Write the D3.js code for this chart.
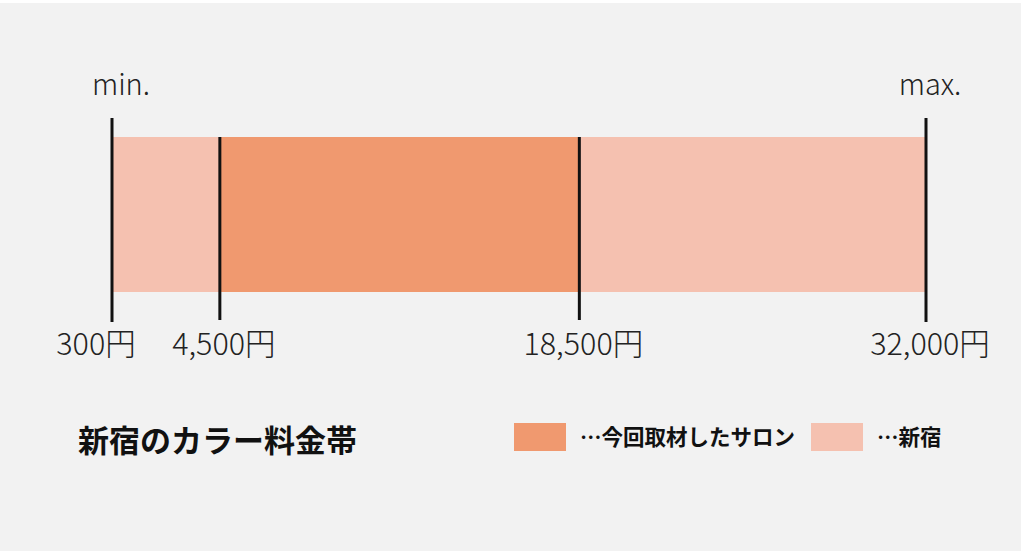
<!DOCTYPE html>
<html>
<head>
<meta charset="utf-8">
<title></title>
<script src="https://cdn.jsdelivr.net/npm/d3@7"></script>
<style>
  body { margin: 0; background: #fff; }
  svg { display: block; }
</style>
</head>
<body>
<svg id="svg"></svg>
<script>
var width = 1024;
var height = 551;

// price range values (yen)
var areaRange = [300, 32000];        // 新宿
var salonRange = [4500, 18500];      // 今回取材したサロン
var tickValues = [300, 4500, 18500, 32000];
var tickLabels = ["300円", "4,500円", "18,500円", "32,000円"];
var endLabels = ["min.", "max."];
var legendNames = ["…今回取材したサロン", "…新宿"];
var title = "新宿のカラー料金帯";

var colDark = "#f0996f";
var colLight = "#f5c1b0";
var font = "'Noto Sans CJK JP', 'Noto Sans', sans-serif";

var svg = d3.select("#svg").attr("width", width).attr("height", height);

svg.append("rect").attr("x", 0).attr("y", 3).attr("width", 1021).attr("height", 548)
  .attr("fill", "#f2f2f2");

var x = d3.scaleLinear().domain(areaRange).range([112, 926]);
var barTop = 137, barBottom = 292;

// bars
svg.append("rect")
  .attr("x", x(areaRange[0])).attr("y", barTop)
  .attr("width", x(areaRange[1]) - x(areaRange[0])).attr("height", barBottom - barTop)
  .attr("fill", colLight);
svg.append("rect")
  .attr("x", x(salonRange[0])).attr("y", barTop)
  .attr("width", x(salonRange[1]) - x(salonRange[0])).attr("height", barBottom - barTop)
  .attr("fill", colDark);

// tick lines
var ends = d3.extent(tickValues);
svg.selectAll("line.tick")
  .data(tickValues)
  .join("line")
  .attr("class", "tick")
  .attr("x1", d => x(d)).attr("x2", d => x(d))
  .attr("y1", d => (d === ends[0] || d === ends[1]) ? 118 : barTop)
  .attr("y2", d => (d === ends[0] || d === ends[1]) ? 322 : 320)
  .attr("stroke", "#111").attr("stroke-width", 3);

// tick labels
svg.selectAll("text.tl")
  .data(tickValues)
  .join("text")
  .attr("class", "tl")
  .attr("x", (d, i) => x(d) + (i === 0 ? -16 : 4))
  .attr("y", 355)
  .attr("text-anchor", "middle")
  .attr("font-family", font)
  .attr("font-size", 30.5)
  .attr("font-weight", 300)
  .attr("fill", "#222")
  .text((d, i) => tickLabels[i]);

// min / max
svg.selectAll("text.end")
  .data(endLabels)
  .join("text")
  .attr("class", "end")
  .attr("x", (d, i) => x(areaRange[i]) + (i === 0 ? 9 : 4))
  .attr("y", 95)
  .attr("text-anchor", "middle")
  .attr("font-family", font)
  .attr("font-size", 29)
  .attr("font-weight", 300)
  .attr("fill", "#222")
  .text(d => d);

// title
svg.append("text")
  .attr("x", 78).attr("y", 452)
  .attr("font-family", font)
  .attr("font-size", 31)
  .attr("font-weight", "bold")
  .attr("fill", "#111")
  .text(title);

// legend
var legX = [514, 811];
var legCols = [colDark, colLight];
var leg = svg.selectAll("g.leg")
  .data(legendNames)
  .join("g")
  .attr("class", "leg")
  .attr("transform", (d, i) => "translate(" + legX[i] + ",423)");
leg.append("rect").attr("width", 52).attr("height", 28).attr("fill", (d, i) => legCols[i]);
leg.append("text")
  .attr("x", 66).attr("y", 22)
  .attr("font-family", font)
  .attr("font-size", 21.5)
  .attr("font-weight", "bold")
  .attr("fill", "#111")
  .text(d => d);
</script>
</body>
</html>
